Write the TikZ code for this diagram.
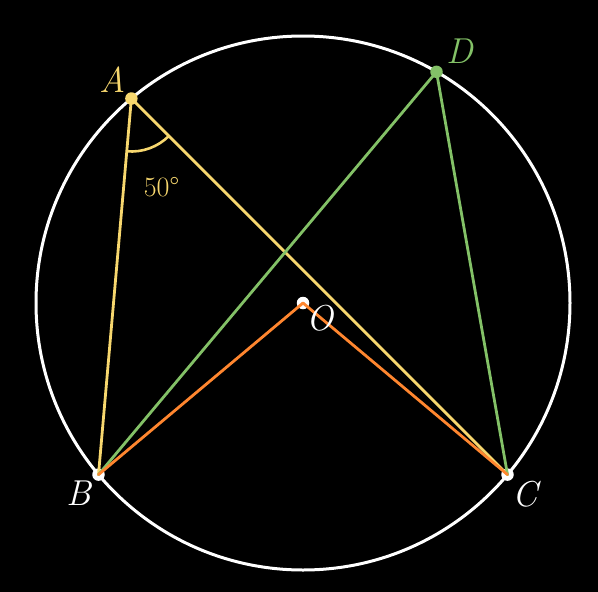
\documentclass[tikz,border=0pt]{standalone}
\usepackage{tikz}
\definecolor{myyellow}{HTML}{F7D76E}
\definecolor{mygreen}{HTML}{83C167}
\definecolor{myorange}{HTML}{FF862F}
\tikzset{
  seg/.style={line width=2.8pt, line cap=round},
  ptdot/.style={circle, fill=#1, inner sep=0pt, minimum size=12.5pt},
  lbl/.style={font=\fontsize{36}{36}\selectfont\itshape, inner sep=0pt},
}
\begin{document}
\begin{tikzpicture}[x=1pt,y=-1pt]
\fill[black] (0,0) rectangle (598,592);
\useasboundingbox (0,0) rectangle (598,592);
\coordinate (O) at (303,303);
\coordinate (A) at (131.4,98.5);
\coordinate (D) at (436.5,71.8);
\coordinate (B) at (98.5,474.6);
\coordinate (C) at (507.5,474.6);
% circle
\draw[white, line width=3pt] (O) circle[radius=267pt];
% white dots
\node[ptdot=white] (dB) at (B) {};
\node[ptdot=white] (dC) at (C) {};
\node[ptdot=white] (dO) at (O) {};
% yellow
\draw[seg, myyellow] (A) -- (B);
\draw[seg, myyellow] (A) -- (C);
\draw[myyellow, line width=2.6pt] (A) ++(-95:53pt) arc[start angle=-95, end angle=-45, radius=53pt];
% green
\draw[seg, mygreen] (D) -- (B);
\draw[seg, mygreen] (D) -- (C);
% orange
\draw[seg, myorange] (O) -- (B);
\draw[seg, myorange] (O) -- (C);
% top dots
\node[ptdot=myyellow] (dA) at (A) {};
\node[ptdot=mygreen] (dD) at (D) {};
% labels
\node[lbl, myyellow] (lA) at (112.5,80) {A};
\node[lbl, mygreen] (lD) at (460,51.5) {D};
\node[lbl, white] (lB) at (78.5,493.5) {B};
\node[lbl, white] (lC) at (525.5,494.5) {C};
\node[lbl, white] (lO) at (320,318) {O};
\node[font=\fontsize{28}{28}\selectfont, inner sep=0pt, myyellow] (ang) at (161.5,187) {50°};
\end{tikzpicture}
\end{document}
